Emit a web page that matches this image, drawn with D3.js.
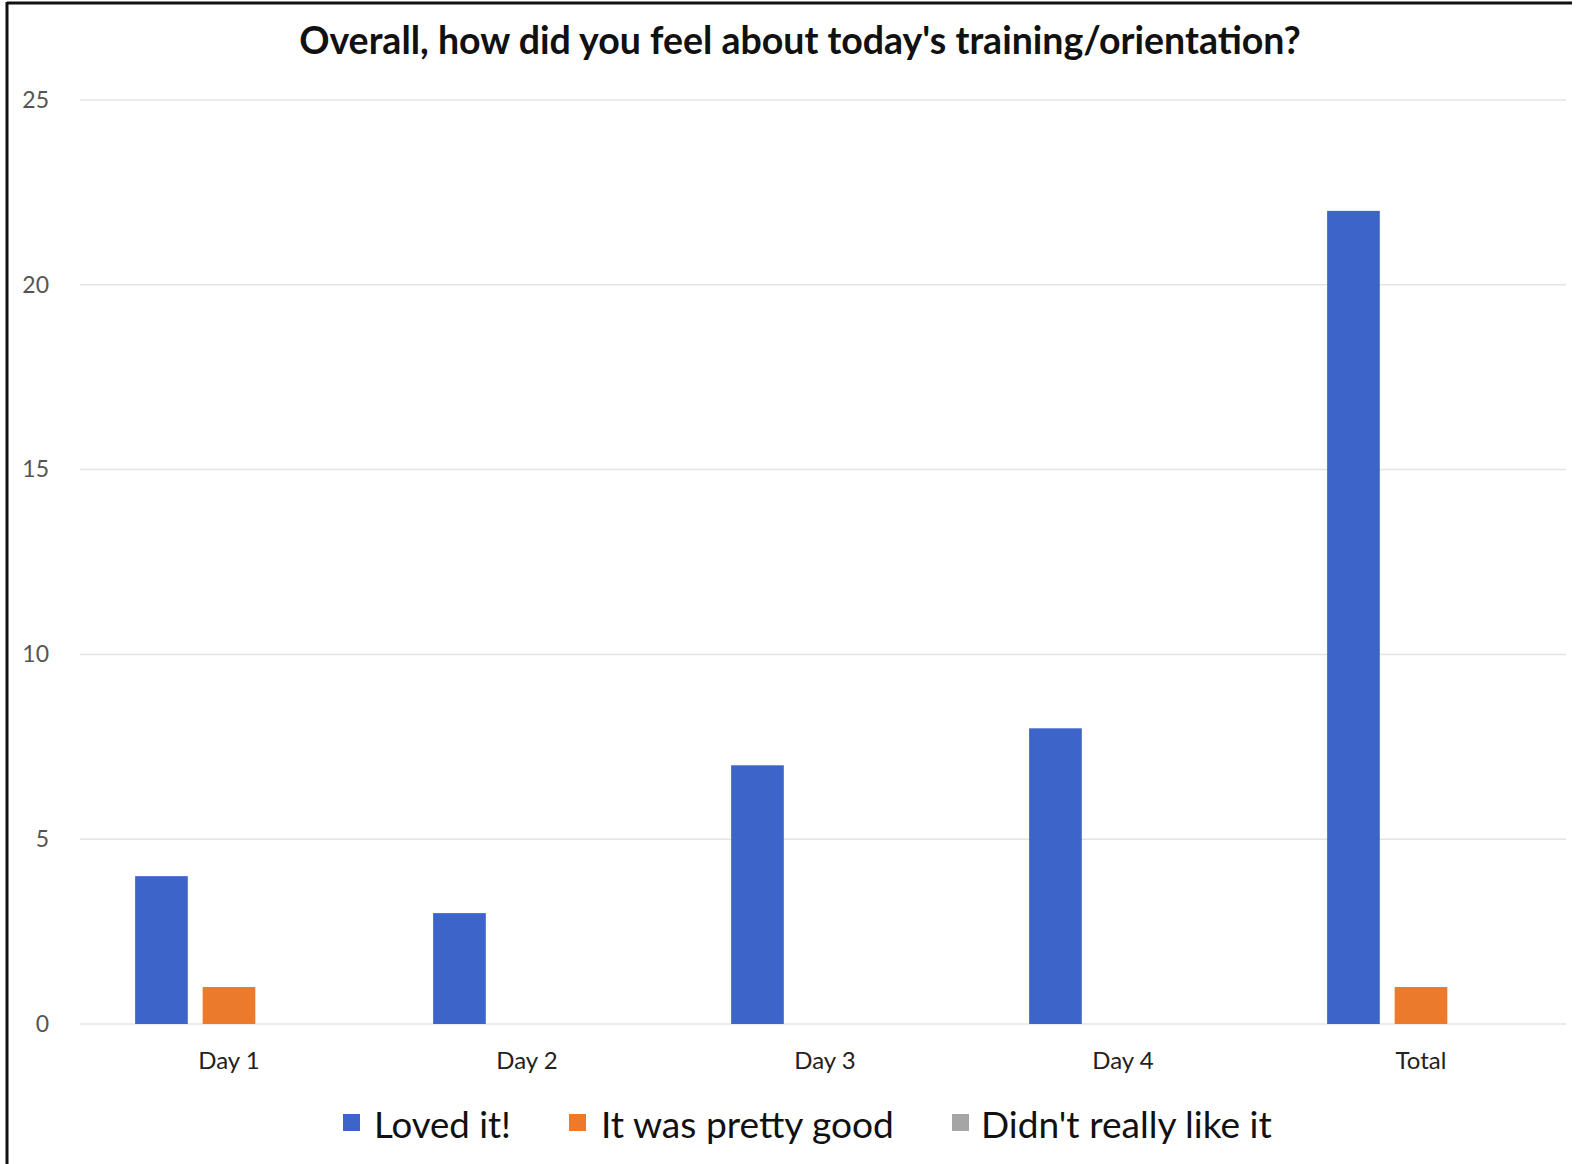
<!DOCTYPE html>
<html>
<head>
<meta charset="utf-8">
<script src="https://cdn.jsdelivr.net/npm/d3@7"></script>
<style>
  html, body { margin: 0; padding: 0; background: #fff; }
  svg { display: block; }
</style>
</head>
<body>
<script>
// Survey responses per training day
const categories = ["Day 1", "Day 2", "Day 3", "Day 4", "Total"];
const seriesNames = ["Loved it!", "It was pretty good", "Didn't really like it"];
const lovedIt = [4, 3, 7, 8, 22];
const prettyGood = [1, 0, 0, 0, 1];
const didntLike = [0, 0, 0, 0, 0];
const yTicks = [0, 5, 10, 15, 20, 25];
const titleText = "Overall, how did you feel about today's training/orientation?";

const colors = ["#3d64c9", "#ec7a2c", "#a5a5a5"];
const seriesValues = [lovedIt, prettyGood, didntLike];

const W = 1578, H = 1164;
const plot = { left: 80, right: 1570, top: 100, bottom: 1024 };

const svg = d3.select("body").append("svg")
  .attr("width", W).attr("height", H);

svg.append("rect").attr("width", W).attr("height", H).attr("fill", "#fff");

// frame lines on top and left
svg.append("line").attr("x1", 7).attr("x2", 1572).attr("y1", 3).attr("y2", 3)
  .attr("stroke", "#111").attr("stroke-width", 3);
svg.append("line").attr("x1", 7).attr("x2", 7).attr("y1", 2).attr("y2", H)
  .attr("stroke", "#111").attr("stroke-width", 3);

const y = d3.scaleLinear().domain([0, 25]).range([plot.bottom, plot.top]);
const x0 = d3.scaleBand().domain(categories).range([plot.left, plot.right])
  .paddingInner(0.37).paddingOuter(0.185);
const x1 = d3.scaleBand().domain(seriesNames).range([0, x0.bandwidth()])
  .paddingInner(0.22).paddingOuter(0);

// gridlines
svg.append("g").selectAll("line").data(yTicks).join("line")
  .attr("x1", plot.left).attr("x2", 1566)
  .attr("y1", d => y(d)).attr("y2", d => y(d))
  .attr("stroke", "#e4e4e4").attr("stroke-width", 1.5);

// y axis labels
const yAxis = d3.axisLeft(y).tickValues(yTicks).tickSize(0).tickPadding(0);
const gy = svg.append("g").attr("transform", "translate(49,0)").call(yAxis);
gy.select(".domain").remove();
gy.selectAll("text")
  .attr("font-family", "Lato, 'Open Sans', sans-serif")
  .attr("font-size", 23).attr("fill", "#555");

// bars
const groups = svg.append("g").selectAll("g").data(categories).join("g")
  .attr("transform", d => `translate(${x0(d)},0)`);
groups.selectAll("rect")
  .data((d, i) => seriesNames.map((s, j) => ({ s, v: seriesValues[j][i], c: colors[j] })))
  .join("rect")
  .attr("x", d => x1(d.s))
  .attr("width", x1.bandwidth())
  .attr("y", d => y(d.v))
  .attr("height", d => y(0) - y(d.v))
  .attr("fill", d => d.c);

// category axis
const xAxis = d3.axisBottom(x0).tickSize(0).tickPadding(0);
const gx = svg.append("g").attr("transform", "translate(0,1052)").call(xAxis);
gx.select(".domain").remove();
gx.selectAll("text")
  .attr("dy", "0.71em")
  .attr("font-family", "Lato, 'Open Sans', sans-serif")
  .attr("font-size", 24).attr("fill", "#222");

// fit a text element horizontally to a target width by adjusting its size
function fitWidth(sel, target) {
  const node = sel.node();
  const fs = parseFloat(sel.attr("font-size"));
  const w = node.getComputedTextLength();
  if (w > 0) sel.attr("font-size", (fs * target / w).toFixed(2));
}

// title
const title = svg.append("text")
  .attr("x", 800).attr("y", 54)
  .attr("text-anchor", "middle")
  .attr("font-family", "Lato, 'Open Sans', sans-serif")
  .attr("font-weight", 700)
  .attr("font-size", 32).attr("fill", "#111")
  .text(titleText);
fitWidth(title, 1002);

// legend
const legendItems = [
  { name: seriesNames[0], sw: 343, tx: 374, tw: 137 },
  { name: seriesNames[1], sw: 569, tx: 601, tw: 293 },
  { name: seriesNames[2], sw: 952, tx: 981, tw: 291 }
];
const lg = svg.append("g");
legendItems.forEach((it, i) => {
  lg.append("rect").attr("x", it.sw).attr("y", 1114).attr("width", 17).attr("height", 17)
    .attr("fill", colors[i]);
  const t = lg.append("text").attr("x", it.tx).attr("y", 1138)
    .attr("font-family", "Lato, 'Open Sans', sans-serif")
    .attr("font-size", 34).attr("fill", "#111")
    .text(it.name);
  fitWidth(t, it.tw);
});
</script>
</body>
</html>
